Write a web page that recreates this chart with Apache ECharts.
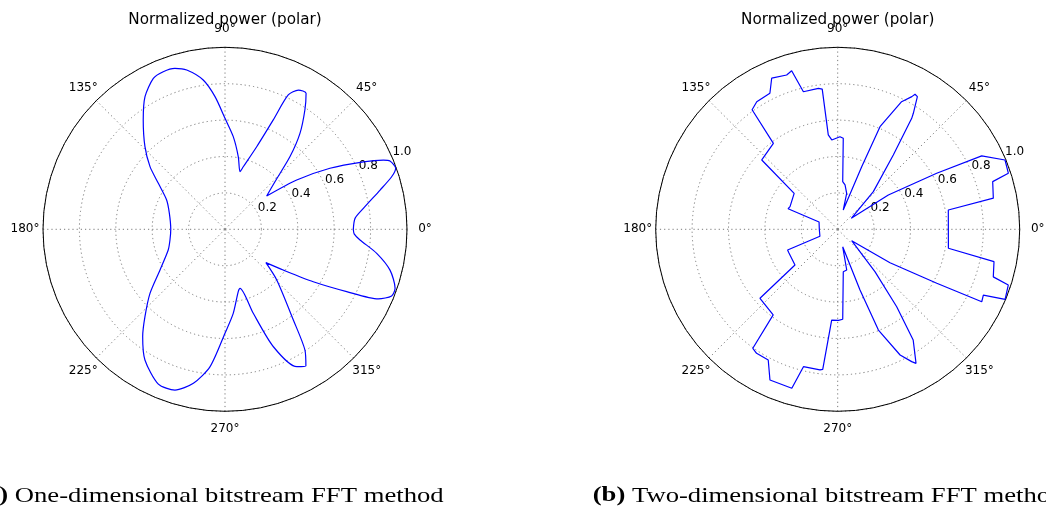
<!DOCTYPE html>
<html>
<head>
<meta charset="utf-8">
<script src="https://cdn.jsdelivr.net/npm/echarts@6/dist/echarts.min.js"></script>
<style>
html,body{margin:0;padding:0;background:#fff;}
#chart{width:1046px;height:509px;}
</style>
</head>
<body>
<div id="chart"></div>
<script>
// ---- data (angle in degrees, normalized radius) ----
const angles1 = [0, 4.8, 8.6, 14.2, 17.5, 19.7, 22.5, 23.6, 26.0, 30.2, 34.5, 38.6, 43.6, 48.2, 52, 56.2, 59.2, 62.2, 64.8, 66.2, 69, 73.7, 75.4, 79.6, 84.9, 90, 94.3, 98.3, 103.5, 107.3, 111.4, 115.4, 121.1, 126.8, 134.1, 140.1, 145.4, 153.3, 164, 180, 191, 200, 212, 220.5, 227.5, 232.5, 238.5, 246.7, 252.7, 258.4, 263.8, 270, 275.6, 282, 284.3, 288.6, 292.4, 297.6, 300.6, 303.5, 307, 315.6, 320.8, 325, 329.3, 332.9, 335.6, 338.2, 340.9, 346.1, 351, 355.5, 358, 360];
const radii1 = [0.705, 0.717, 0.769, 0.879, 0.96, 0.996, 0.981, 0.95, 0.846, 0.667, 0.478, 0.293, 0.379, 0.536, 0.669, 0.789, 0.87, 0.865, 0.816, 0.657, 0.486, 0.358, 0.327, 0.405, 0.511, 0.61, 0.731, 0.829, 0.9, 0.926, 0.93, 0.918, 0.851, 0.75, 0.632, 0.537, 0.445, 0.359, 0.318, 0.298, 0.308, 0.332, 0.421, 0.542, 0.651, 0.743, 0.842, 0.926, 0.925, 0.864, 0.759, 0.571, 0.464, 0.35, 0.335, 0.487, 0.698, 0.852, 0.873, 0.796, 0.624, 0.398, 0.29, 0.39, 0.564, 0.751, 0.925, 0.986, 0.989, 0.934, 0.844, 0.744, 0.71, 0.705];

const angles2 = [0, 9.9, 11.3, 17.1, 18.2, 22.5, 27, 29.5, 34.1, 39, 46.6, 53.2, 56.3, 56.9, 59, 60.2, 60.8, 63.4, 67.6, 69, 74, 76, 80.6, 84, 86.5, 88.6, 89.6, 93.8, 95.7, 96.3, 97.8, 104, 106.2, 108.3, 113.6, 116.5, 122.4, 125.6, 126.8, 137.6, 140.5, 154.6, 157.5, 158.6, 180, 201.5, 202.5, 205.4, 219.9, 221.6, 233, 234.5, 236.8, 242, 245.8, 253.9, 256, 262.8, 263.9, 266.2, 270.5, 273.2, 277.5, 282.5, 286, 290.2, 292, 296.4, 299.2, 300.3, 304.3, 307.3, 311.3, 320.8, 327.4, 331.4, 333.3, 335.7, 337.3, 341.9, 343, 348.3, 350.3, 360];
const radii2 = [0.608, 0.617, 0.872, 0.891, 0.987, 0.995, 0.888, 0.625, 0.336, 0.096, 0.285, 0.51, 0.733, 0.761, 0.85, 0.855, 0.835, 0.784, 0.61, 0.368, 0.11, 0.204, 0.247, 0.263, 0.501, 0.509, 0.5, 0.492, 0.521, 0.775, 0.782, 0.779, 0.907, 0.893, 0.906, 0.835, 0.83, 0.808, 0.59, 0.565, 0.31, 0.29, 0.295, 0.11, 0.101, 0.105, 0.298, 0.298, 0.306, 0.571, 0.589, 0.803, 0.814, 0.813, 0.908, 0.909, 0.778, 0.779, 0.774, 0.5, 0.5, 0.495, 0.235, 0.229, 0.1, 0.355, 0.597, 0.771, 0.833, 0.853, 0.736, 0.535, 0.31, 0.099, 0.341, 0.62, 0.886, 0.878, 0.997, 0.986, 0.894, 0.877, 0.617, 0.608];

const radiusTicks = [0.2, 0.4, 0.6, 0.8, 1.0];
const chartTitle = 'Normalized power (polar)';
const captionA = ['(a)', 'One-dimensional bitstream FFT method'];
const captionB = ['(b)', 'Two-dimensional bitstream FFT method'];

const toData = (ang, rad) => ang.map((a, i) => [rad[i], a]);

const FONT = 'DejaVu Sans';
const gridLine = { color: '#7a7a7a', width: 1, type: [1.2, 3] };
const centers = [[225, 229.3], [837.7, 229.3]];
const R = 182;

const polar = [], angleAxis = [], radiusAxis = [], series = [], title = [];
centers.forEach((c, k) => {
  // main grid polar
  polar.push({ center: c, radius: R });
  angleAxis.push({
    polarIndex: 2 * k, type: 'value', min: 0, max: 360, interval: 45,
    startAngle: 0, clockwise: false,
    axisLine: { show: true, lineStyle: { color: '#000', width: 1 } },
    axisTick: { show: false },
    splitLine: { show: true, lineStyle: gridLine },
    axisLabel: { show: true, margin: 17, color: '#000', fontSize: 12, fontFamily: FONT,
      formatter: v => '{t|' + v + '°}',
      rich: { t: { width: 2, height: 2, align: 'center', verticalAlign: 'middle',
        fontSize: 12, fontFamily: FONT, color: '#000' } } }
  });
  radiusAxis.push({
    polarIndex: 2 * k, type: 'value', min: 0, max: 1, interval: 0.2,
    axisLine: { show: false }, axisTick: { show: false },
    axisLabel: { show: false },
    splitLine: { show: true, lineStyle: gridLine }
  });
  // label polar (radius labels along 22.5 deg)
  polar.push({ center: c, radius: R });
  angleAxis.push({
    polarIndex: 2 * k + 1, type: 'value', min: 0, max: 360, startAngle: 22.5, clockwise: false,
    axisLine: { show: false }, axisTick: { show: false }, splitLine: { show: false },
    axisLabel: { show: false }
  });
  radiusAxis.push({
    polarIndex: 2 * k + 1, type: 'value', min: 0, max: 1, interval: 0.2,
    axisLine: { show: false }, axisTick: { show: false }, splitLine: { show: false },
    axisLabel: { show: true, margin: 2, align: 'left', verticalAlign: 'bottom',
      color: '#000', fontSize: 12, fontFamily: FONT,
      formatter: v => radiusTicks.some(t => Math.abs(t - v) < 1e-6) ? v.toFixed(1) : '' }
  });
  title.push({
    text: chartTitle, left: c[0], top: 13, textAlign: 'center', padding: 0,
    textStyle: { color: '#000', fontSize: 15.2, fontWeight: 'normal', fontFamily: FONT }
  });
});

series.push({
  type: 'line', coordinateSystem: 'polar', polarIndex: 0,
  data: toData(angles1, radii1), showSymbol: false, smooth: 0.25,
  lineStyle: { color: '#0000ff', width: 1.2 }, z: 5
});
series.push({
  type: 'line', coordinateSystem: 'polar', polarIndex: 2,
  data: toData(angles2, radii2), showSymbol: false, smooth: false,
  lineStyle: { color: '#0000ff', width: 1.2 }, z: 5
});

function caption(x, parts) {
  return {
    type: 'text', x: x, y: 496, scaleX: 1.27,
    style: {
      text: '{b|' + parts[0] + '}{n| ' + parts[1] + '}',
      font: '21px "Liberation Serif"',
      fill: '#000',
      verticalAlign: 'middle', align: 'left',
      rich: {
        b: { font: 'bold 21px "Liberation Serif"', fill: '#000' },
        n: { font: '21px "Liberation Serif"', fill: '#000' }
      }
    }
  };
}

const chart = echarts.init(document.getElementById('chart'), null, { renderer: 'canvas' });
chart.setOption({
  backgroundColor: '#fff',
  animation: false,
  title: title,
  polar: polar,
  angleAxis: angleAxis,
  radiusAxis: radiusAxis,
  series: series,
  graphic: [caption(-23, captionA), caption(592.7, captionB)]
});
</script>
</body>
</html>
